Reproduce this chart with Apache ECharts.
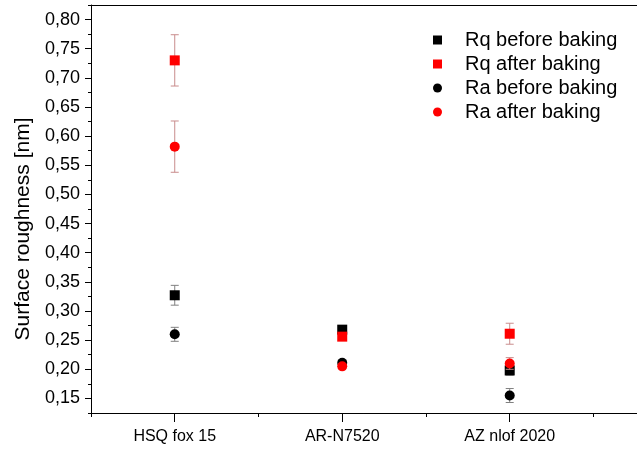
<!DOCTYPE html>
<html>
<head>
<meta charset="utf-8">
<script src="https://cdn.jsdelivr.net/npm/echarts@6/dist/echarts.min.js"></script>
<style>html,body{margin:0;padding:0;background:#fff}#chart{width:637px;height:450px}</style>
</head>
<body>
<div id="chart"></div>
<script>
// categories sit at x = 1, 2, 3
var categories = ['HSQ fox 15', 'AR-N7520', 'AZ nlof 2020'];
var rqBefore    = [0.327, 0.268, 0.198];
var rqBeforeErr = [0.017, 0.004, 0.008];
var rqAfter     = [0.730, 0.256, 0.261];
var rqAfterErr  = [0.044, 0.005, 0.018];
var raBefore    = [0.260, 0.211, 0.155];
var raBeforeErr = [0.012, 0.004, 0.012];
var raAfter     = [0.582, 0.205, 0.210];
var raAfterErr  = [0.044, 0.004, 0.010];

var FONT = 'Liberation Sans';
var chart = echarts.init(document.getElementById('chart'));

function points(values) {
    return values.map(function (v, i) { return [i + 1, v]; });
}

function errorBars(name, values, errs, color, z) {
    return {
        type: 'custom',
        name: name,
        z: z,
        silent: true,
        encode: {x: 0, y: [1, 2]},
        data: values.map(function (v, i) { return [i + 1, v - errs[i], v + errs[i]]; }),
        renderItem: function (params, api) {
            var lo = api.coord([api.value(0), api.value(1)]);
            var hi = api.coord([api.value(0), api.value(2)]);
            var w = 4;
            var st = {stroke: color, lineWidth: 1};
            return {type: 'group', children: [
                {type: 'line', shape: {x1: hi[0], y1: hi[1], x2: lo[0], y2: lo[1]}, style: st},
                {type: 'line', shape: {x1: hi[0] - w, y1: hi[1], x2: hi[0] + w, y2: hi[1]}, style: st},
                {type: 'line', shape: {x1: lo[0] - w, y1: lo[1], x2: lo[0] + w, y2: lo[1]}, style: st}
            ]};
        }
    };
}

function scatter(name, values, symbol, color, z) {
    return {
        type: 'scatter',
        name: name,
        symbol: symbol,
        symbolSize: 10,
        z: z,
        itemStyle: {color: color, opacity: 1},
        data: points(values)
    };
}

var axisLine = {show: true, onZero: false, lineStyle: {color: '#000', width: 1}};

option = {
    animation: false,
    backgroundColor: '#fff',
    grid: {left: 91, top: 5, right: 0, bottom: 37},
    legend: {
        orient: 'vertical',
        left: 428,
        top: 25,
        itemWidth: 9,
        itemHeight: 9,
        itemGap: 4,
        textStyle: {fontFamily: FONT, fontSize: 20, lineHeight: 20, color: '#000', padding: [0, 0, 0, 18]},
        data: ['Rq before baking', 'Rq after baking', 'Ra before baking', 'Ra after baking']
    },
    xAxis: [
        {   // short ticks at every half step
            type: 'value', min: 0.5, max: 3.76, interval: 0.5,
            axisLine: axisLine,
            axisTick: {show: true, inside: false, length: 4, lineStyle: {color: '#000'}},
            axisLabel: {show: false},
            splitLine: {show: false}
        },
        {   // long ticks + labels on the categories
            type: 'value', min: 0.5, max: 3.76, splitNumber: 3,
            position: 'bottom',
            axisLine: {show: false, onZero: false},
            axisTick: {show: true, length: 9, lineStyle: {color: '#000'}},
            axisLabel: {
                show: true, margin: 16, showMinLabel: false, showMaxLabel: false,
                fontFamily: FONT, fontSize: 16, color: '#000',
                formatter: function (v) {
                    var i = Math.round(v);
                    return Math.abs(v - i) < 1e-6 && categories[i - 1] ? categories[i - 1] : '';
                }
            },
            splitLine: {show: false}
        },
        {   // top frame line
            type: 'value', min: 0.5, max: 3.76, position: 'top',
            axisLine: axisLine,
            axisTick: {show: false}, axisLabel: {show: false}, splitLine: {show: false}
        }
    ],
    yAxis: [
        {   // minor ticks
            type: 'value', min: 0.125, max: 0.825, interval: 0.025,
            axisLine: axisLine,
            axisTick: {show: true, length: 3, lineStyle: {color: '#000'}},
            axisLabel: {show: false},
            splitLine: {show: false},
            name: 'Surface roughness [nm]',
            nameLocation: 'middle',
            nameGap: 57,
            nameTextStyle: {fontFamily: FONT, fontSize: 21, color: '#000', padding: [0, 40, 0, 0]}
        },
        {   // major ticks + labels
            type: 'value', min: 0.125, max: 0.825, splitNumber: 14,
            position: 'left',
            axisLine: {show: false},
            axisTick: {show: true, length: 6, lineStyle: {color: '#000'}},
            axisLabel: {
                show: true, margin: 11, showMinLabel: false, showMaxLabel: false,
                fontFamily: FONT, fontSize: 18, color: '#000',
                formatter: function (v) {
                    var k = Math.round(v / 0.05);
                    if (Math.abs(v / 0.05 - k) > 1e-6) return '';
                    return (k * 0.05).toFixed(2).replace('.', ',');
                }
            },
            splitLine: {show: false}
        }
    ],
    series: [
        errorBars('e1', rqBefore, rqBeforeErr, '#808080', 1),
        errorBars('e3', raBefore, raBeforeErr, '#808080', 1),
        errorBars('e2', rqAfter, rqAfterErr, '#c98c8c', 3),
        errorBars('e4', raAfter, raAfterErr, '#c98c8c', 3),
        scatter('Rq before baking', rqBefore, 'rect', '#000', 2),
        scatter('Rq after baking', rqAfter, 'rect', '#ff0000', 4),
        scatter('Ra before baking', raBefore, 'circle', '#000', 2),
        scatter('Ra after baking', raAfter, 'circle', '#ff0000', 4)
    ]
};
chart.setOption(option);
</script>
</body>
</html>
